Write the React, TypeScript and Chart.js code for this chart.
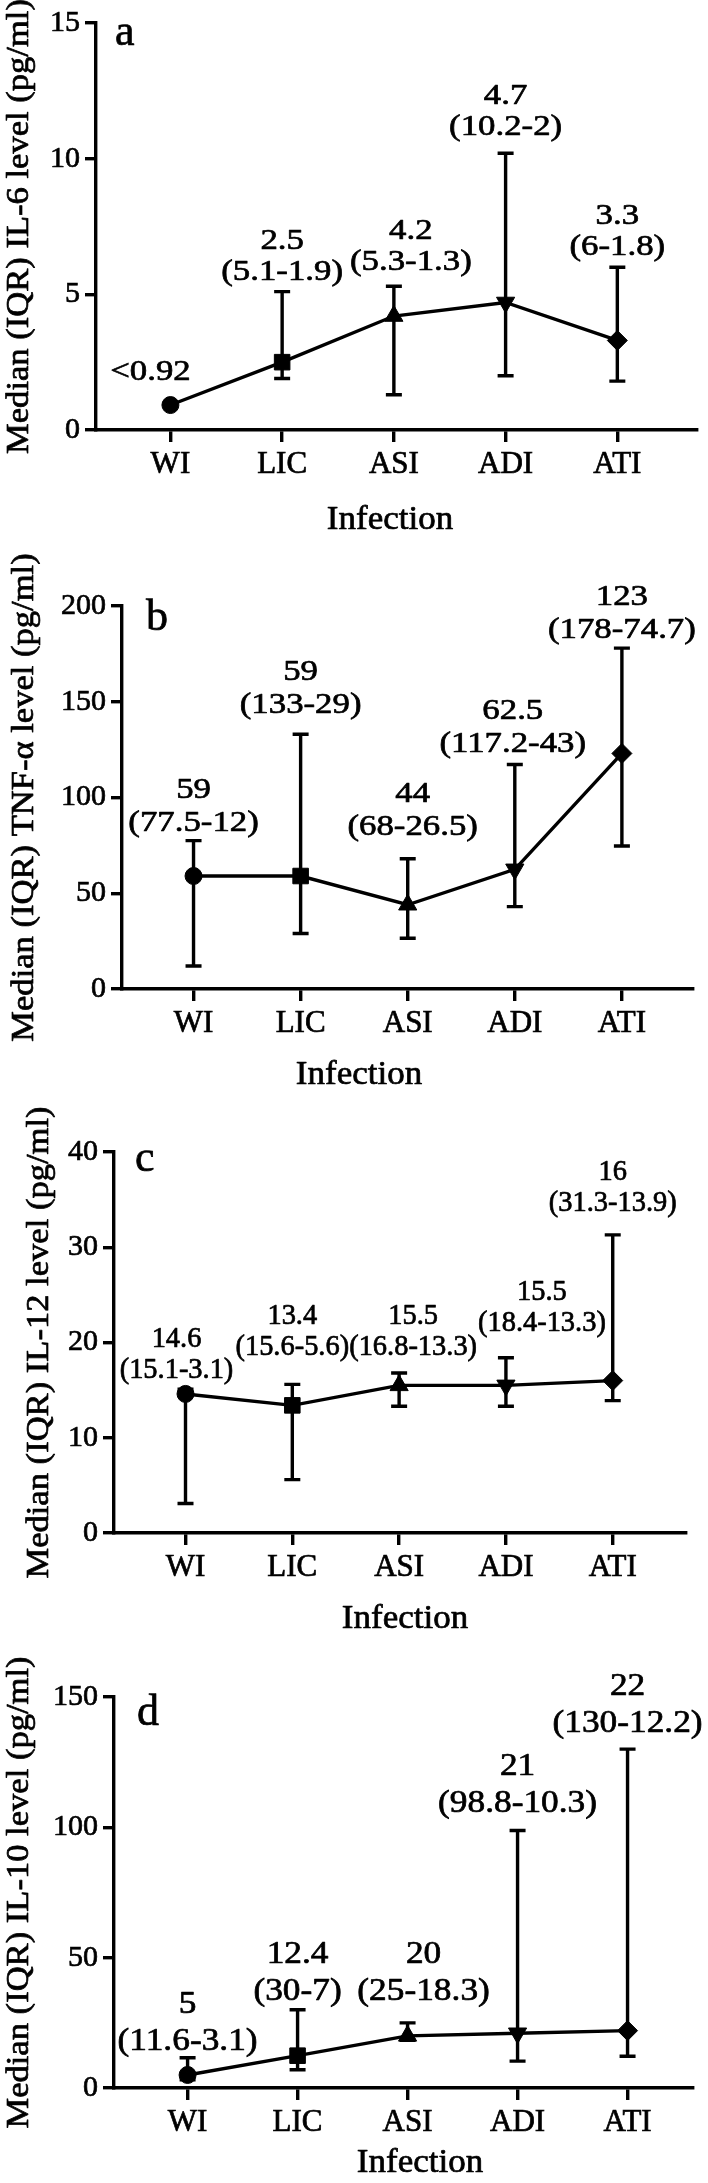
import React, { useEffect, useRef } from 'react';
import { Chart, registerables } from 'chart.js';

Chart.register(...registerables);

// ---------- data ----------
const categories = ['WI', 'LIC', 'ASI', 'ADI', 'ATI'];
const categoryPositions = [1, 2, 3, 4, 5];

// IL-6 (pg/ml): median and IQR (Q3-Q1)
const il6Median = [0.92, 2.5, 4.2, 4.7, 3.3];
const il6Q3: (number | null)[] = [null, 5.1, 5.3, 10.2, 6];
const il6Q1: (number | null)[] = [null, 1.9, 1.3, 2, 1.8];
const il6Prefix = ['<', '', '', '', ''];
const il6Ticks = [0, 5, 10, 15];

// TNF-alpha (pg/ml)
const tnfMedian = [59, 59, 44, 62.5, 123];
const tnfQ3: (number | null)[] = [77.5, 133, 68, 117.2, 178];
const tnfQ1: (number | null)[] = [12, 29, 26.5, 43, 74.7];
const tnfPrefix = ['', '', '', '', ''];
const tnfTicks = [0, 50, 100, 150, 200];

// IL-12 (pg/ml)
const il12Median = [14.6, 13.4, 15.5, 15.5, 16];
const il12Q3: (number | null)[] = [15.1, 15.6, 16.8, 18.4, 31.3];
const il12Q1: (number | null)[] = [3.1, 5.6, 13.3, 13.3, 13.9];
const il12Prefix = ['', '', '', '', ''];
const il12Ticks = [0, 10, 20, 30, 40];

// IL-10 (pg/ml)
const il10Median = [5, 12.4, 20, 21, 22];
const il10Q3: (number | null)[] = [11.6, 30, 25, 98.8, 130];
const il10Q1: (number | null)[] = [3.1, 7, 18.3, 10.3, 12.2];
const il10Prefix = ['', '', '', '', ''];
const il10Ticks = [0, 50, 100, 150];

const xTitle = 'Infection';

// ---------- layout / style ----------
const FONT = '"Liberation Serif", "Times New Roman", serif';
const TEXT_STROKE = 0.7;
const LINE_W = 3.4;
const markerStyles = ['circle', 'rect', 'triangle', 'triangle', 'rectRot'];
const markerRotation = [0, 0, 0, 180, 0];
const markerRadius = [8.5, 11, 10.5, 10.5, 10];

type Panel = {
  letter: string;
  title: string;
  median: number[];
  q3: (number | null)[];
  q1: (number | null)[];
  prefix: string[];
  ticks: number[];
  height: number;
  areaTop: number;
  areaBottom: number;
  areaLeft: number;
  areaRight: number;
  xMin: number;
  xMax: number;
  yTitleX: number;
  infX: number;
  infY: number;
  letterDx: number;
  letterDy: number;
  labelDx: number[];
  labelGap: number[];
  lineGap: number;
  labelSize: number;
  labelStretch: number;
};

const panels: Panel[] = [
  {
    letter: 'a', title: 'Median (IQR) IL-6 level (pg/ml)',
    median: il6Median, q3: il6Q3, q1: il6Q1, prefix: il6Prefix, ticks: il6Ticks,
    height: 545, areaTop: 23, areaBottom: 430, areaLeft: 96, areaRight: 707,
    xMin: 0.334, xMax: 5.713, yTitleX: 20, infX: 390, infY: 520,
    letterDx: 19, letterDy: 22,
    labelDx: [-20, 0, 17, 0, 0], labelGap: [33, 19, 24, 26, 20], lineGap: 31,
    labelSize: 30, labelStretch: 1.16,
  },
  {
    letter: 'b', title: 'Median (IQR) TNF-\u03b1 level (pg/ml)',
    median: tnfMedian, q3: tnfQ3, q1: tnfQ1, prefix: tnfPrefix, ticks: tnfTicks,
    height: 545, areaTop: 61, areaBottom: 444, areaLeft: 122, areaRight: 693,
    xMin: 0.332, xMax: 5.664, yTitleX: 25, infX: 359, infY: 530,
    letterDx: 24, letterDy: 24,
    labelDx: [0, 0, 5, -2, 0], labelGap: [17, 29, 32, 20, 18], lineGap: 33,
    labelSize: 30, labelStretch: 1.16,
  },
  {
    letter: 'c', title: 'Median (IQR) IL-12 level (pg/ml)',
    median: il12Median, q3: il12Q3, q1: il12Q1, prefix: il12Prefix, ticks: il12Ticks,
    height: 545, areaTop: 62, areaBottom: 443, areaLeft: 114, areaRight: 686,
    xMin: 0.3305, xMax: 5.686, yTitleX: 40, infX: 405, infY: 529,
    letterDx: 21, letterDy: 19,
    labelDx: [-9, 0, 14, 36, 0], labelGap: [19, 37, 26, 34, 31], lineGap: 31,
    labelSize: 29, labelStretch: 0.98,
  },
  {
    letter: 'd', title: 'Median (IQR) IL-10 level (pg/ml)',
    median: il10Median, q3: il10Q3, q1: il10Q1, prefix: il10Prefix, ticks: il10Ticks,
    height: 548, areaTop: 62, areaBottom: 453, areaLeft: 114, areaRight: 693,
    xMin: 0.331, xMax: 5.595, yTitleX: 20, infX: 420, infY: 528,
    letterDx: 23, letterDy: 28,
    labelDx: [0, 0, 16, 0, 0], labelGap: [16, 18, 31, 27, 25], lineGap: 37,
    labelSize: 31, labelStretch: 1.14,
  },
];

function drawText(ctx: CanvasRenderingContext2D, text: string, x: number, y: number, sx: number) {
  ctx.save();
  ctx.translate(x, y);
  ctx.scale(sx, 1);
  ctx.lineWidth = TEXT_STROKE;
  ctx.strokeStyle = '#000';
  ctx.lineJoin = 'round';
  ctx.strokeText(text, 0, 0);
  ctx.fillText(text, 0, 0);
  ctx.restore();
}

function makeDecorPlugin(p: Panel) {
  return {
    id: 'panelDecor' + p.letter,
    beforeDatasetsDraw(chart: any) {
      const { ctx } = chart;
      const x = chart.scales.x;
      const y = chart.scales.y;
      ctx.save();
      ctx.strokeStyle = '#000';
      ctx.lineWidth = LINE_W;
      ctx.lineCap = 'butt';
      p.median.forEach((_m, i) => {
        const u = p.q3[i];
        const l = p.q1[i];
        if (u == null || l == null) return;
        const px = x.getPixelForValue(categoryPositions[i]);
        const yu = y.getPixelForValue(u);
        const yl = y.getPixelForValue(l);
        ctx.beginPath();
        ctx.moveTo(px, yu);
        ctx.lineTo(px, yl);
        ctx.moveTo(px - 8, yu);
        ctx.lineTo(px + 8, yu);
        ctx.moveTo(px - 8, yl);
        ctx.lineTo(px + 8, yl);
        ctx.stroke();
      });
      ctx.restore();
    },
    afterDraw(chart: any) {
      const { ctx, chartArea } = chart;
      const x = chart.scales.x;
      const y = chart.scales.y;
      ctx.save();
      ctx.fillStyle = '#000';

      // value labels
      ctx.font = `${p.labelSize}px ${FONT}`;
      ctx.textAlign = 'center';
      ctx.textBaseline = 'middle';
      p.median.forEach((m, i) => {
        const u = p.q3[i];
        const l = p.q1[i];
        const anchor = y.getPixelForValue(u ?? m);
        const cx = x.getPixelForValue(categoryPositions[i]) + p.labelDx[i];
        const lines = u == null || l == null ? [p.prefix[i] + String(m)] : [String(m), `(${u}-${l})`];
        let cy = anchor - p.labelGap[i];
        for (let k = lines.length - 1; k >= 0; k--) {
          drawText(ctx, lines[k], cx, cy, p.labelStretch);
          cy -= p.lineGap;
        }
      });

      // panel letter
      ctx.font = `44px ${FONT}`;
      ctx.textAlign = 'left';
      ctx.textBaseline = 'alphabetic';
      drawText(ctx, p.letter, chartArea.left + p.letterDx, chartArea.top + p.letterDy, 1);

      // x title
      ctx.font = `33px ${FONT}`;
      ctx.textAlign = 'center';
      ctx.textBaseline = 'middle';
      drawText(ctx, xTitle, p.infX, p.infY, 1.06);

      // y title
      ctx.save();
      ctx.translate(p.yTitleX, (chartArea.top + chartArea.bottom) / 2);
      ctx.rotate(-Math.PI / 2);
      ctx.font = `32px ${FONT}`;
      drawText(ctx, p.title, 0, 0, 1.08);
      ctx.restore();

      ctx.restore();
    },
  };
}

function PanelChart({ p }: { p: Panel }) {
  const ref = useRef<HTMLCanvasElement | null>(null);
  useEffect(() => {
    if (!ref.current) return;
    const chart = new Chart(ref.current, {
      type: 'line',
      data: {
        datasets: [
          {
            data: p.median.map((m, i) => ({ x: categoryPositions[i], y: m })),
            borderColor: '#000',
            borderWidth: LINE_W,
            pointStyle: markerStyles as any,
            pointRotation: markerRotation,
            pointRadius: markerRadius,
            pointBackgroundColor: '#000',
            pointBorderColor: '#000',
            pointBorderWidth: 1,
            tension: 0,
            fill: false,
          } as any,
        ],
      },
      options: {
        responsive: false,
        animation: false,
        devicePixelRatio: 1,
        layout: { padding: { top: p.areaTop, right: 708 - p.areaRight, left: 0, bottom: 0 } },
        plugins: { legend: { display: false }, tooltip: { enabled: false }, title: { display: false } },
        scales: {
          x: {
            type: 'linear',
            min: p.xMin,
            max: p.xMax,
            afterBuildTicks: (s: any) => {
              s.ticks = categoryPositions.map((v) => ({ value: v }));
            },
            afterFit: (s: any) => {
              s.height = p.height - p.areaBottom;
            },
            ticks: {
              callback: (_v: any, idx: number) => categories[idx] ?? '',
              autoSkip: false,
              maxRotation: 0,
              minRotation: 0,
              font: { family: FONT, size: 31 },
              color: '#000',
              textStrokeColor: '#000',
              textStrokeWidth: TEXT_STROKE,
              padding: 4,
            },
            grid: { display: true, drawOnChartArea: false, drawTicks: true, tickLength: 12, lineWidth: LINE_W, color: '#000' },
            border: { display: true, width: LINE_W, color: '#000' },
          },
          y: {
            type: 'linear',
            min: 0,
            max: p.ticks[p.ticks.length - 1],
            afterBuildTicks: (s: any) => {
              s.ticks = p.ticks.map((v) => ({ value: v }));
            },
            afterFit: (s: any) => {
              s.width = p.areaLeft;
            },
            ticks: {
              font: { family: FONT, size: 30 },
              color: '#000',
              textStrokeColor: '#000',
              textStrokeWidth: TEXT_STROKE,
              padding: 5,
            },
            grid: { display: true, drawOnChartArea: false, drawTicks: true, tickLength: 11, lineWidth: LINE_W, color: '#000' },
            border: { display: true, width: LINE_W, color: '#000' },
          },
        },
      } as any,
      plugins: [makeDecorPlugin(p)],
    });
    return () => chart.destroy();
  }, [p]);
  return <canvas ref={ref} width={708} height={p.height} style={{ display: 'block', width: 708, height: p.height }} />;
}

export default function App() {
  return (
    <div style={{ position: 'absolute', left: 0, top: 0, width: 708, height: 2183, background: '#fff' }}>
      {panels.map((p) => (
        <PanelChart key={p.letter} p={p} />
      ))}
    </div>
  );
}
